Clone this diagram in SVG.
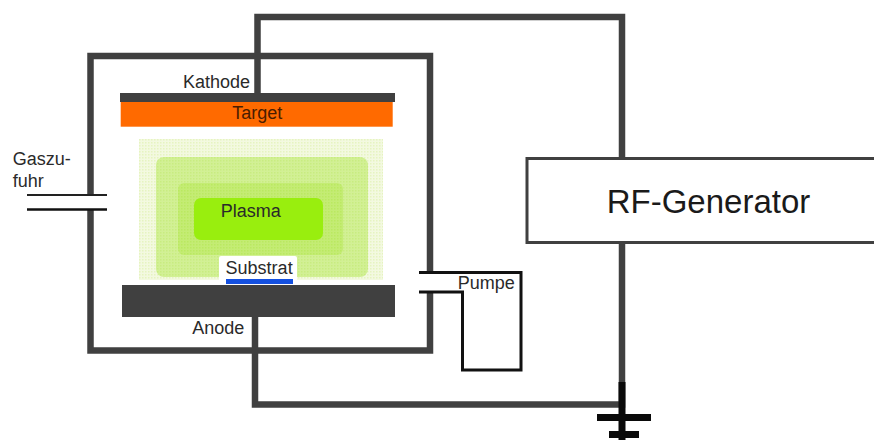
<svg xmlns="http://www.w3.org/2000/svg" width="874" height="440" viewBox="0 0 874 440">
<style>
text{font-family:"Liberation Sans",Arial,sans-serif;font-size:18px;fill:#2a2a2a}
.wall{fill:none;stroke:#404040;stroke-width:6.5;stroke-linecap:butt;stroke-linejoin:miter}
.wire{fill:none;stroke:#404040;stroke-width:6.5;stroke-linejoin:miter}
.thin{fill:none;stroke:#111;stroke-width:3;stroke-linejoin:miter}
.blk{fill:#0a0a0a}
</style>
<defs>
<pattern id="dots" width="3" height="3" patternUnits="userSpaceOnUse">
<rect width="3" height="3" fill="#f3f9e0"/>
<rect x="1" y="1" width="1.5" height="1.5" fill="#e6f4c0"/>
</pattern>
<pattern id="dots2" width="3" height="3" patternUnits="userSpaceOnUse">
<rect width="3" height="3" fill="#d2f095"/>
<rect x="1" y="1" width="1.5" height="1.5" fill="#c8ec80"/>
</pattern>
<pattern id="dots3" width="3" height="3" patternUnits="userSpaceOnUse">
<rect width="3" height="3" fill="#c4ec74"/>
<rect x="1" y="1" width="1.5" height="1.5" fill="#bae960"/>
</pattern>
</defs>
<rect width="874" height="440" fill="#fff"/>
<g id="plasma">
<rect x="139" y="139" width="244" height="141" fill="url(#dots)"/>
<rect x="156" y="157" width="212" height="120" rx="8" fill="url(#dots2)"/>
<rect x="178" y="183" width="165" height="72" rx="6" fill="url(#dots3)"/>
<rect x="194" y="198" width="129" height="42" rx="7" fill="#99ee0e"/>
<text x="220.700" y="217">Plasma</text>
</g>
<g id="chamber">
<path class="wall" d="M90.500 195V56H430V272M430 292V350.500H90.500V209"/>
</g>
<g id="gas-inlet">
<path d="M27 195H107" stroke="#222" stroke-width="2" fill="none"/>
<path d="M27 209.500H107" stroke="#111" stroke-width="2.500" fill="none"/>
<text x="12.700" y="165.300">Gaszu-</text>
<text x="12.700" y="186.700">fuhr</text>
</g>
<g id="connectors">
<path class="wire" d="M257.500 93V17H622V158"/>
<path class="wire" d="M622 242V404.500H255V317"/>
<path class="thin" d="M419 272.500H521V370H462.500V292H419"/>
</g>
<g id="kathode">
<rect x="120" y="93" width="275" height="9" fill="#404040"/>
<text x="183" y="88">Kathode</text>
</g>
<g id="target">
<rect x="120.700" y="102" width="272" height="24.700" fill="#ff6a00"/>
<text x="232.300" y="119.300" style="fill:#4a1c00">Target</text>
</g>
<g id="substrat">
<rect x="219" y="256" width="78" height="29" rx="2" fill="#fff"/>
<rect x="226" y="279" width="67" height="5" fill="#1450e0"/>
<text x="225.600" y="274">Substrat</text>
</g>
<g id="anode">
<rect x="122" y="285" width="273" height="32" fill="#404040"/>
<text x="192.300" y="334.300">Anode</text>
</g>
<g id="pumpe">
<text x="457.700" y="288.500">Pumpe</text>
</g>
<g id="rf-generator">
<rect x="527" y="158.500" width="360" height="84" fill="#fff" stroke="#404040" stroke-width="3"/>
<text x="606.700" y="213" style="font-size:33px;fill:#1a1a1a">RF-Generator</text>
</g>
<g id="ground">
<rect class="blk" x="618.500" y="382" width="7" height="58"/>
<rect class="blk" x="597" y="414" width="54" height="7"/>
<rect class="blk" x="609" y="431" width="30" height="7"/>
</g>
</svg>
